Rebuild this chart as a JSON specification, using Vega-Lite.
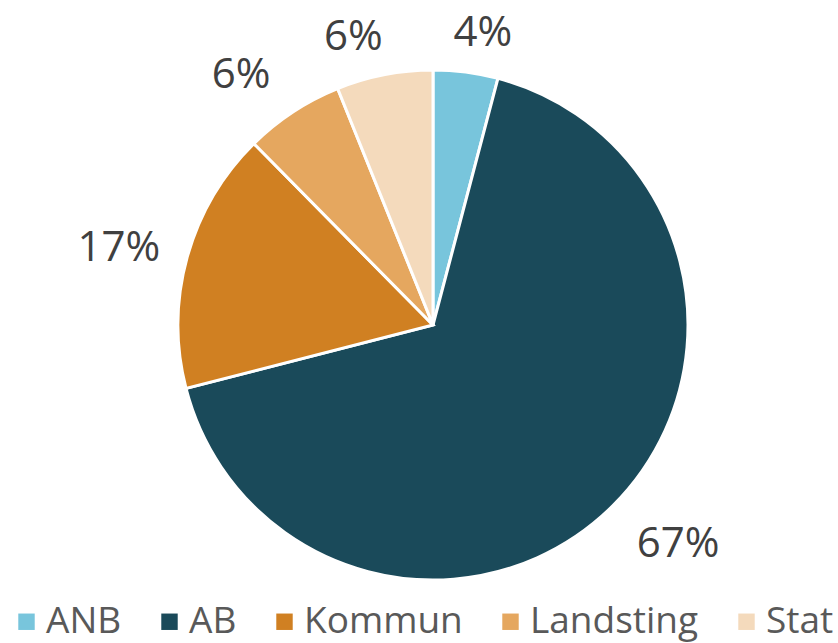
{
  "$schema": "https://vega.github.io/schema/vega-lite/v6.json",
  "autosize": {"type": "none"},
  "width": 866,
  "height": 650,
  "padding": 0,
  "background": "white",
  "config": {"view": {"stroke": null}, "font": "Open Sans"},
  "data": {
    "values": [
      {"sektor": "ANB", "andel": 4.1, "etikett": "4%", "ord": 1},
      {"sektor": "AB", "andel": 66.9, "etikett": "67%", "ord": 2},
      {"sektor": "Kommun", "andel": 16.6, "etikett": "17%", "ord": 3},
      {"sektor": "Landsting", "andel": 6.3, "etikett": "6%", "ord": 4},
      {"sektor": "Stat", "andel": 6.1, "etikett": "6%", "ord": 5}
    ]
  },
  "encoding": {
    "theta": {"field": "andel", "type": "quantitative", "stack": true},
    "order": {"field": "ord", "type": "quantitative"}
  },
  "layer": [
    {
      "mark": {"type": "arc", "outerRadius": 255, "stroke": "white", "strokeWidth": 3},
      "encoding": {
        "color": {
          "field": "sektor",
          "type": "nominal",
          "sort": ["ANB", "AB", "Kommun", "Landsting", "Stat"],
          "scale": {
            "domain": ["ANB", "AB", "Kommun", "Landsting", "Stat"],
            "range": ["#78C5DC", "#1A4A5A", "#D08022", "#E5A75F", "#F4DABC"]
          },
          "legend": {
            "title": null,
            "orient": "none",
            "legendX": 8,
            "legendY": 603,
            "direction": "horizontal",
            "symbolType": "square",
            "symbolSize": 270,
            "symbolStrokeWidth": 0,
            "labelFont": "Open Sans",
            "labelFontSize": 37,
            "labelLimit": 400,
            "labelColor": "#595959",
            "columnPadding": 29,
            "labelOffset": 1
          }
        }
      }
    },
    {
      "mark": {"type": "text", "radius": 294, "dx": 12, "fontSize": 42, "font": "Open Sans", "color": "#404040"},
      "encoding": {
        "text": {"field": "etikett", "type": "nominal"},
        "opacity": {"condition": {"test": "datum.sektor === 'ANB'", "value": 1}, "value": 0}
      }
    },
    {
      "mark": {"type": "text", "radius": 298, "dx": -23, "dy": 5, "fontSize": 42, "font": "Open Sans", "color": "#404040"},
      "encoding": {
        "text": {"field": "etikett", "type": "nominal"},
        "opacity": {"condition": {"test": "datum.sektor === 'Stat'", "value": 1}, "value": 0}
      }
    },
    {
      "mark": {"type": "text", "radius": 315, "dx": -19, "dy": 13, "fontSize": 42, "font": "Open Sans", "color": "#404040"},
      "encoding": {
        "text": {"field": "etikett", "type": "nominal"},
        "opacity": {"condition": {"test": "datum.sektor === 'Landsting'", "value": 1}, "value": 0}
      }
    },
    {
      "mark": {"type": "text", "radius": 326, "dy": 10, "fontSize": 42, "font": "Open Sans", "color": "#404040"},
      "encoding": {
        "text": {"field": "etikett", "type": "nominal"},
        "opacity": {"condition": {"test": "datum.sektor === 'Kommun'", "value": 1}, "value": 0}
      }
    },
    {
      "mark": {"type": "text", "radius": 328, "dx": 14, "dy": -14, "fontSize": 42, "font": "Open Sans", "color": "#404040"},
      "encoding": {
        "text": {"field": "etikett", "type": "nominal"},
        "opacity": {"condition": {"test": "datum.sektor === 'AB'", "value": 1}, "value": 0}
      }
    }
  ]
}
